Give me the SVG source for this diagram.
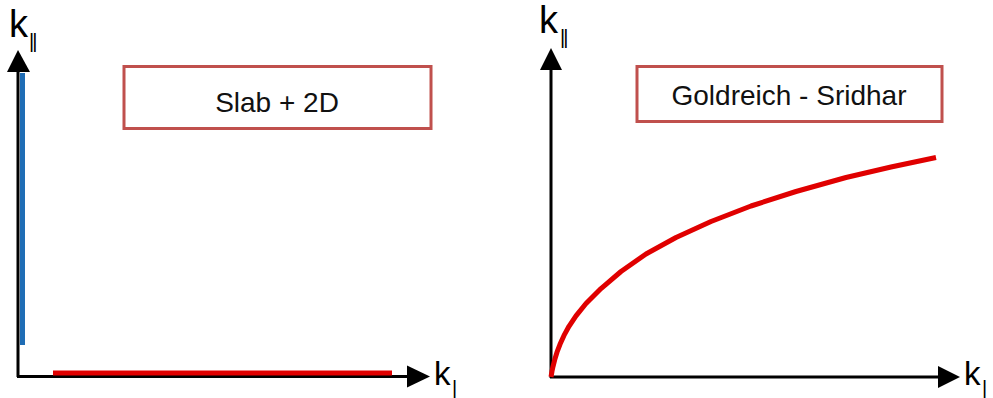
<svg xmlns="http://www.w3.org/2000/svg" width="993" height="398" viewBox="0 0 993 398">
<style>
.axis{stroke:#000;stroke-width:3;fill:none}
.head{fill:#000}
.box{fill:#fff;stroke:#c0504d;stroke-width:3}
.lbl{font-family:"Liberation Sans",Arial,sans-serif;fill:#000}
.title{font-family:"Liberation Sans",Arial,sans-serif;font-size:28px;fill:#111;text-anchor:middle}
.red{stroke:#e00000;stroke-width:5;fill:none;stroke-linecap:butt;stroke-linejoin:round}
.blue{stroke:#1f6db5;stroke-width:5;fill:none}
</style>
<rect width="993" height="398" fill="#fff"/>
<g id="connectors">
  <line class="axis" x1="18" y1="377" x2="18" y2="70"/>
  <polygon class="head" points="18,50 7,72 30,72"/>
  <line class="axis" x1="17" y1="376.5" x2="410" y2="376.5"/>
  <polygon class="head" points="430,376.5 407,365.5 407,387.5"/>
  <line class="axis" x1="551" y1="378" x2="551" y2="68"/>
  <polygon class="head" points="551,48 540,70 562,70"/>
  <line class="axis" x1="550" y1="377" x2="940" y2="377"/>
  <polygon class="head" points="960,377 938,366 938,388"/>
</g>
<g id="slab-line">
  <line class="blue" x1="22.5" y1="73" x2="22.5" y2="345"/>
  <line class="red" x1="53" y1="373" x2="392" y2="373"/>
</g>
<g id="gs-curve">
  <polyline class="red" points="551,377 552,371.3 553,366.6 555,358.7 557,352.2 560,344.3 564,335.4 569,326.3 576,315.8 586,303.5 601,288.6 621,271.5 646,254 676,237.5 711,221.5 751,206 796,191.5 846,177.5 891,167 936,157.5"/>
</g>
<g id="label-kpar-left">
  <text class="lbl" x="9" y="37" font-size="38">k</text>
  <text class="lbl" x="29" y="48" font-size="20" letter-spacing="-2">||</text>
</g>
<g id="label-kperp-left">
  <text class="lbl" x="434" y="385" font-size="33">k</text>
  <text class="lbl" x="452" y="395" font-size="20">|</text>
</g>
<g id="label-kpar-right">
  <text class="lbl" x="539" y="33" font-size="38">k</text>
  <text class="lbl" x="560" y="44" font-size="20" letter-spacing="-2">||</text>
</g>
<g id="label-kperp-right">
  <text class="lbl" x="964" y="385" font-size="33">k</text>
  <text class="lbl" x="982" y="395" font-size="20">|</text>
</g>
<g id="box-slab">
  <rect class="box" x="124" y="66.5" width="307" height="62"/>
  <text class="title" x="277" y="112">Slab + 2D</text>
</g>
<g id="box-gs">
  <rect class="box" x="637" y="66.5" width="305" height="55"/>
  <text class="title" x="789" y="105" font-size="29.5">Goldreich - Sridhar</text>
</g>
</svg>
